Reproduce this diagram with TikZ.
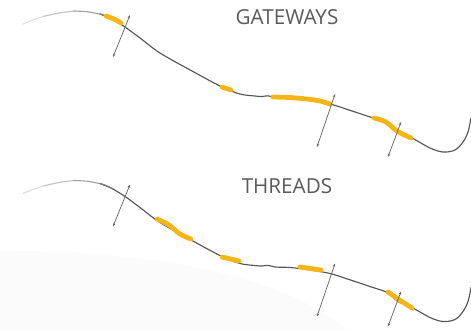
\documentclass[tikz,border=0pt]{standalone}
\usepackage{fontspec}
\setmainfont{Open Sans}
\usetikzlibrary{arrows.meta}
\definecolor{ylw}{HTML}{F7B515}
\definecolor{crv}{HTML}{555555}
\definecolor{txt}{HTML}{5A5A5A}
\tikzset{
  curve/.style={draw=crv,line width=0.85pt,line cap=round,line join=round},
  hilite/.style={draw=ylw,line width=3.6pt,line cap=round,line join=round},
  normal/.style={draw=crv!90,line width=0.55pt,{Stealth[length=2.6pt,width=2pt]}-{Stealth[length=2.6pt,width=2pt]}},
  label/.style={text=txt,font=\fontsize{15.5}{18}\selectfont,inner sep=0pt}
}
\begin{document}
\begin{tikzpicture}[x=0.75pt,y=-0.75pt]
\useasboundingbox (0,0) rectangle (471,330);
% faint background
\fill[black!1.5] (0,251) .. controls (110,250) and (230,265) .. (300,300) .. controls (320,310) and (335,320) .. (348,330) -- (0,330) -- cycle;

\foreach \dy/\nm in {0/G,169.5/T}{
\begin{scope}[yshift=-\dy*0.75pt]
\draw[curve] plot[smooth,tension=0.55] coordinates {(100,14) (112,19) (125,27) (140,38) (160,53) (192,71) (222,87) (240,94) (255,96) (262,96.5) (268,95.8) (275,97.5) (290,98) (307,100) (330,104) (352,111) (373,118) (387,123) (398,132) (412,138) (430,148) (443,152) (455,150) (463,142) (468,132) (471,118)};
\draw[curve,draw=crv!20] plot[smooth] coordinates {(23,24) (34,19.5) (45,16)};
\draw[curve,draw=crv!35] plot[smooth] coordinates {(44,16.3) (60,12.8) (75,11)};
\draw[curve,draw=crv!55] plot[smooth] coordinates {(74,11) (88,11.8) (101,14.4)};
\draw[curve,draw=crv!80] plot[smooth] coordinates {(100,14) (106,16) (113,19.5)};
\coordinate (\nm a1) at (113,57); \coordinate (\nm b1) at (130,15);
\coordinate (\nm a2) at (317,147); \coordinate (\nm b2) at (335,94);
\coordinate (\nm a3) at (388,157); \coordinate (\nm b3) at (401,122);
\end{scope}
}
% top highlights
\draw[hilite] plot[smooth] coordinates {(106,16) (114,19) (121,23)};
\draw[hilite] plot[smooth] coordinates {(222,87) (231,90)};
\draw[hilite] plot[smooth,tension=0.5] coordinates {(273,97) (290,97.5) (307,99) (320,101) (330,104)};
\draw[hilite] plot[smooth,tension=0.6] coordinates {(374,118) (386,122) (397,131) (411,138)};
% bottom highlights
\draw[hilite] plot[smooth,tension=0.6] coordinates {(157,219) (169,225) (180,234) (191,239)};
\draw[hilite] plot[smooth] coordinates {(222,257) (239,261)};
\draw[hilite] plot[smooth] coordinates {(300,267) (321,270)};
\draw[hilite] plot[smooth,tension=0.6] coordinates {(388,292) (398,299) (412,308)};
% normals
\foreach \nm in {G,T}{
  \draw[normal] (\nm a1) -- (\nm b1);
  \draw[normal] (\nm a2) -- (\nm b2);
  \draw[normal] (\nm a3) -- (\nm b3);
}
\node[label] (gw) at (287,17) {GATEWAYS};
\node[label] (th) at (287,186) {THREADS};
\end{tikzpicture}
\end{document}
